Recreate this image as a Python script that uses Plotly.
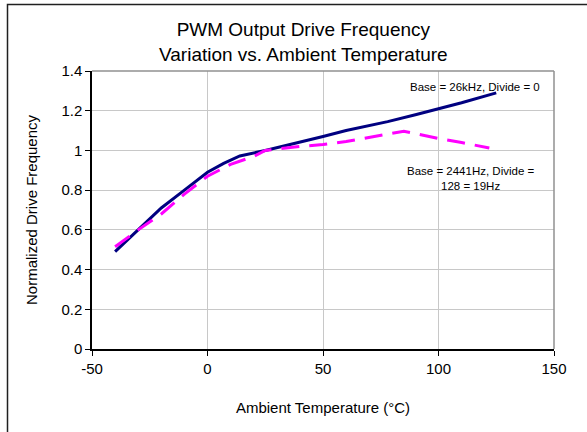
import plotly.graph_objects as go

# Data
temp_base26k = [-40, -30, -20, -10, 0, 7, 14, 25, 40, 50, 60, 70, 78, 90, 100, 110, 125]
freq_base26k = [0.49, 0.60, 0.71, 0.80, 0.89, 0.935, 0.972, 1.00, 1.04, 1.07, 1.10, 1.125, 1.145, 1.18, 1.21, 1.24, 1.29]

temp_base2441 = [-40, -30, -20, -10, 0, 10, 20, 25, 40, 50, 60, 70, 85, 100, 110, 122]
freq_base2441 = [0.515, 0.60, 0.68, 0.78, 0.87, 0.93, 0.97, 1.00, 1.02, 1.03, 1.045, 1.065, 1.097, 1.06, 1.04, 1.012]

x_ticks = [-50, 0, 50, 100, 150]
y_ticks = [0, 0.2, 0.4, 0.6, 0.8, 1, 1.2, 1.4]
y_ticktext = ["0", "0.2", "0.4", "0.6", "0.8", "1", "1.2", "1.4"]

FONT = "Arial, Liberation Sans, sans-serif"

fig = go.Figure()
fig.add_trace(go.Scatter(x=temp_base26k, y=freq_base26k, mode="lines",
                         line=dict(color="#000080", width=3),
                         name="Base = 26kHz, Divide = 0", showlegend=False))
fig.add_trace(go.Scatter(x=temp_base2441, y=freq_base2441, mode="lines",
                         line=dict(color="#FF00FF", width=3, dash="18px,10px"),
                         name="Base = 2441Hz, Divide = 128 = 19Hz", showlegend=False))

W, H = 587, 432
L, R, T, B = 92, 33, 71, 83
pw, ph = W - L - R, H - T - B


def px_to_paper_x(px):
    return (px - L) / pw


def px_to_paper_y(py):
    return (H - B - py) / ph


fig.update_layout(
    width=W, height=H,
    margin=dict(l=L, r=R, t=T, b=B),
    paper_bgcolor="white", plot_bgcolor="white",
    font=dict(family=FONT, color="black"),
    xaxis=dict(range=[-50, 150], tickvals=x_ticks, ticktext=[str(v) for v in x_ticks],
               showgrid=True, gridcolor="#c8c8c8", gridwidth=1,
               showline=True, linecolor="black", linewidth=1.5,
               ticks="outside", ticklen=5, tickcolor="black",
               tickfont=dict(size=15, family=FONT),
               zeroline=False,
               title=dict(text="Ambient Temperature (°C)", font=dict(size=15, family=FONT), standoff=27)),
    yaxis=dict(range=[0, 1.4], tickvals=y_ticks, ticktext=y_ticktext,
               showgrid=True, gridcolor="#c8c8c8", gridwidth=1,
               showline=True, linecolor="black", linewidth=1.5,
               ticks="outside", ticklen=5, tickcolor="black",
               tickfont=dict(size=15, family=FONT),
               zeroline=False,
               title=dict(text="Normalized Drive Frequency", font=dict(size=15, family=FONT), standoff=20)),
)

# plot-area border (top & right in gray)
fig.add_shape(type="line", xref="paper", yref="paper", x0=0, x1=1, y0=1, y1=1,
              line=dict(color="#909090", width=1.5))
fig.add_shape(type="line", xref="paper", yref="paper", x0=1, x1=1, y0=0, y1=1,
              line=dict(color="#909090", width=1.5))

# outer chart frame (left & top visible)
fig.add_shape(type="rect", xref="paper", yref="paper",
              x0=px_to_paper_x(7.5), x1=px_to_paper_x(620),
              y0=px_to_paper_y(460), y1=px_to_paper_y(4.5),
              line=dict(color="#202020", width=1.5), fillcolor="rgba(0,0,0,0)")

# chart title
fig.add_annotation(x=px_to_paper_x(303.5), y=px_to_paper_y(42), xref="paper", yref="paper",
                   text="PWM Output Drive Frequency<br>Variation vs. Ambient Temperature",
                   showarrow=False, font=dict(size=19, family=FONT, color="black"),
                   xanchor="center", yanchor="middle", align="center")

fig.add_annotation(x=px_to_paper_x(475), y=px_to_paper_y(86.7), xref="paper", yref="paper",
                   text="Base = 26kHz, Divide = 0", showarrow=False,
                   font=dict(size=11.5, family=FONT, color="black"),
                   xanchor="center", yanchor="middle")
fig.add_annotation(x=px_to_paper_x(470.5), y=px_to_paper_y(178), xref="paper", yref="paper",
                   text="Base = 2441Hz, Divide =<br>128 = 19Hz", showarrow=False,
                   font=dict(size=11.5, family=FONT, color="black"),
                   xanchor="center", yanchor="middle", align="center")

fig.write_html("out.html")
